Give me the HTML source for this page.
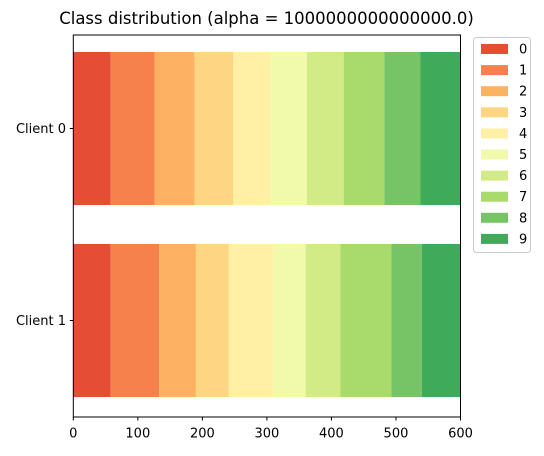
<!DOCTYPE html>
<html><head><meta charset="utf-8"><style>
body{margin:0;background:#fff;font-family:"Liberation Sans","DejaVu Sans",sans-serif;}
</style></head><body>
<svg id="chart" width="544" height="451" xmlns="http://www.w3.org/2000/svg" font-family="DejaVu Sans, Liberation Sans, sans-serif">
<text x="266.5" y="24" text-anchor="middle" font-size="16.5">Class distribution (alpha = 1000000000000000.0)</text>
<g id="bars"></g>
<rect x="73.3" y="35" width="387.2" height="382" fill="none" stroke="#000" stroke-width="1"/>
<g id="axes"></g>
<g id="legend"></g>
</svg>
<script>
const clients = ["Client 0", "Client 1"];
const classes = ["0","1","2","3","4","5","6","7","8","9"];
const client0 = [58,68,62,60,58,56,57,63,56,62];
const client1 = [58,75,57,51,69,50,54,79,47,60];
const xTicks = [0,100,200,300,400,500,600];
const colors = ["#e54e35","#f7814c","#fdb163","#fed683","#fff0a6","#f1f9ab","#d3eb87","#a9da6c","#76c465","#3faa59"];
const series = [client0, client1];
const NS="http://www.w3.org/2000/svg";
const x0=73.3, x1=460.5, xMax=600;
const sx=v=>x0+(v/xMax)*(x1-x0);
const rowCenter=[128.5,320.5], barH=153;
const bars=document.getElementById('bars');
series.forEach((vals,ci)=>{
  let acc=0;
  vals.forEach((v,k)=>{
    const r=document.createElementNS(NS,'rect');
    r.setAttribute('x',sx(acc));r.setAttribute('width',sx(acc+v)-sx(acc));
    r.setAttribute('y',rowCenter[ci]-barH/2);r.setAttribute('height',barH);
    r.setAttribute('fill',colors[k]);
    
    
    bars.appendChild(r);acc+=v;
  });
});
const axes=document.getElementById('axes');
xTicks.forEach(t=>{
  const l=document.createElementNS(NS,'line');
  l.setAttribute('x1',sx(t));l.setAttribute('x2',sx(t));l.setAttribute('y1',417);l.setAttribute('y2',420.5);l.setAttribute('stroke','#000');
  
  
  axes.appendChild(l);
  const tx=document.createElementNS(NS,'text');
  tx.setAttribute('x',sx(t));tx.setAttribute('y',437.5);tx.setAttribute('text-anchor','middle');tx.setAttribute('font-size','13');
  tx.textContent=t;
  
  
  axes.appendChild(tx);
});
clients.forEach((c,i)=>{
  const l=document.createElementNS(NS,'line');
  l.setAttribute('x1',69.8);l.setAttribute('x2',73.3);l.setAttribute('y1',rowCenter[i]);l.setAttribute('y2',rowCenter[i]);l.setAttribute('stroke','#000');
  
  
  axes.appendChild(l);
  const tx=document.createElementNS(NS,'text');
  tx.setAttribute('x',66);tx.setAttribute('y',rowCenter[i]+4.5);tx.setAttribute('text-anchor','end');tx.setAttribute('font-size','13');
  tx.textContent=c;
  
  
  axes.appendChild(tx);
});
const lg=document.getElementById('legend');
const box=document.createElementNS(NS,'rect');
box.setAttribute('x',473.5);box.setAttribute('y',37.5);box.setAttribute('width',57);box.setAttribute('height',215);box.setAttribute('rx',3);
box.setAttribute('fill','#fff');box.setAttribute('stroke','#ccc');


lg.appendChild(box);
classes.forEach((c,k)=>{
  const y=44+k*21.1;
  const r=document.createElementNS(NS,'rect');
  r.setAttribute('x',481);r.setAttribute('y',y);r.setAttribute('width',27);r.setAttribute('height',10);r.setAttribute('fill',colors[k]);
  
  
  lg.appendChild(r);
  const t=document.createElementNS(NS,'text');
  t.setAttribute('x',519);t.setAttribute('y',y+9.5);t.setAttribute('font-size','13');t.textContent=c;
  
  
  lg.appendChild(t);
});
</script>
</body></html>
